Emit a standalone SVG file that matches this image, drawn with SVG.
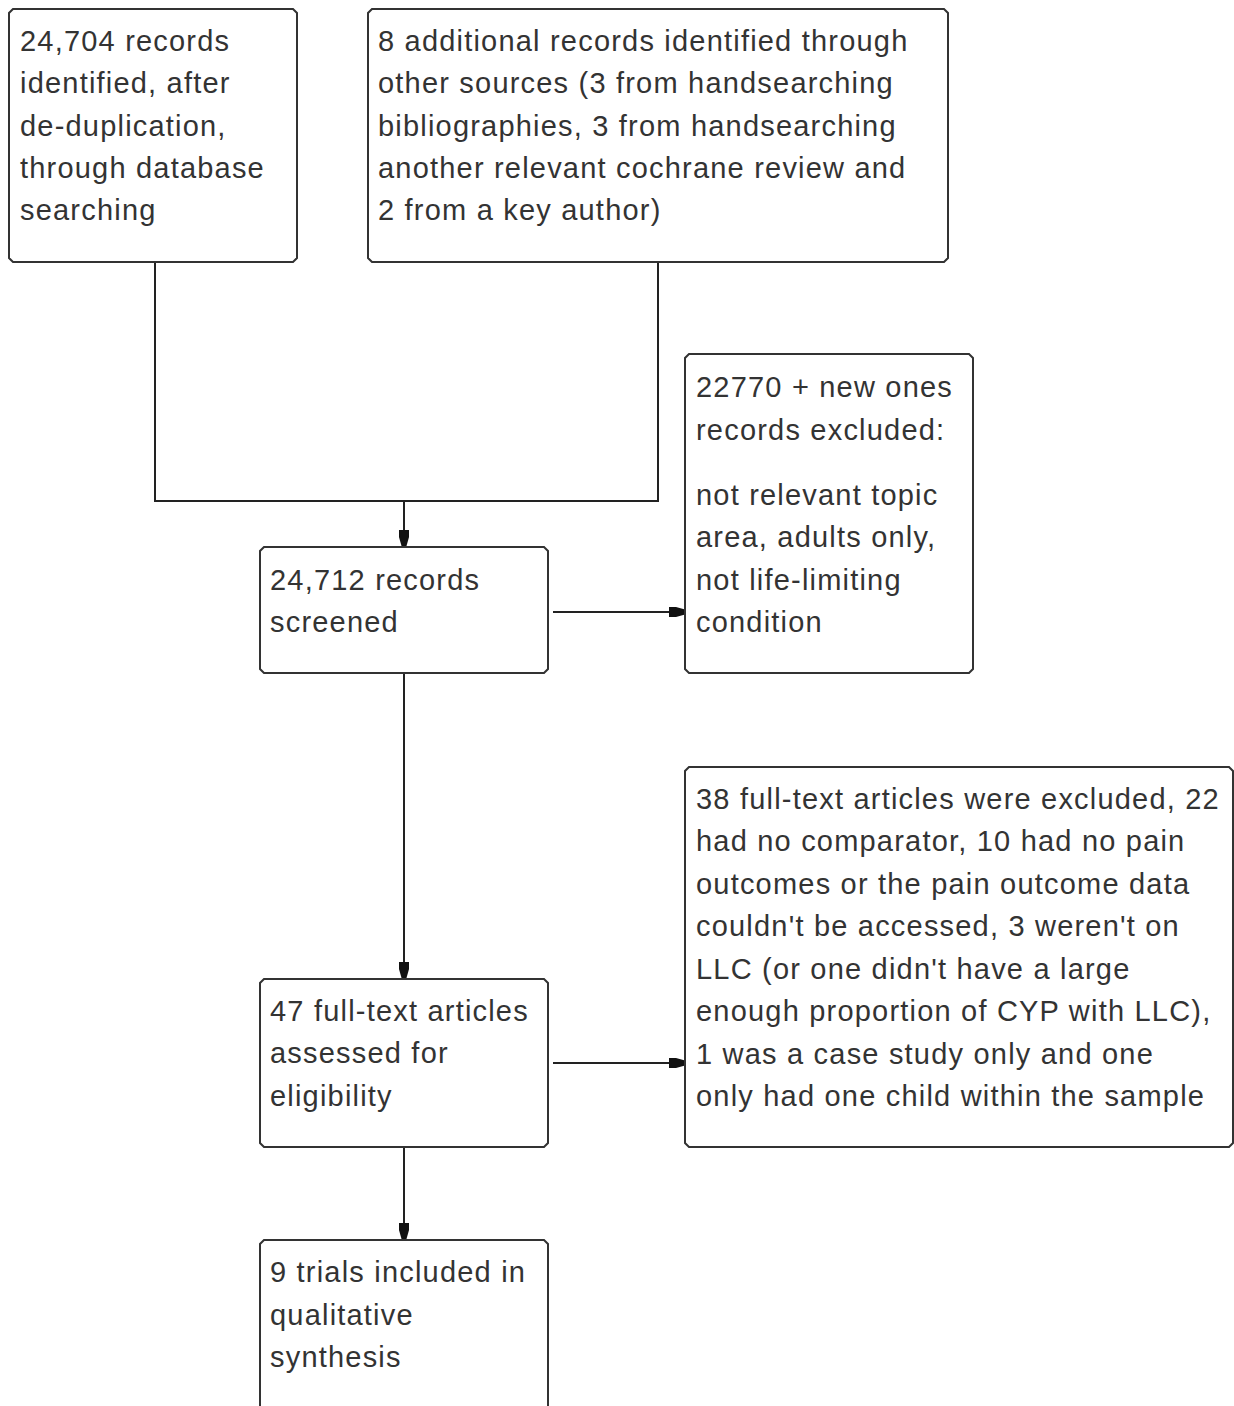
<svg xmlns="http://www.w3.org/2000/svg" width="1234" height="1406" viewBox="0 0 1234 1406">
<style>
.box{fill:#fff;stroke:#333;stroke-width:2}
.t{font-family:"Liberation Sans",Arial,sans-serif;font-size:29px;letter-spacing:1.2px;fill:#333}
.ln{fill:none;stroke:#222;stroke-width:2}
</style>
<defs>
<marker id="ah" viewBox="0 0 16 12" refX="16" refY="6" markerWidth="16" markerHeight="12" markerUnits="userSpaceOnUse" orient="auto">
<path d="M0,1 L7,1 L16,3.5 L16,8.5 L7,11 L0,11 Z" fill="#111"/>
</marker>
</defs>
<rect width="1234" height="1406" fill="#fff"/>
<g id="connectors">
<polyline class="ln" points="155,262 155,501 658,501 658,262"/>
<line class="ln" x1="404" y1="501" x2="404" y2="546" marker-end="url(#ah)"/>
<line class="ln" x1="553" y1="612" x2="685" y2="612" marker-end="url(#ah)"/>
<line class="ln" x1="404" y1="673" x2="404" y2="978" marker-end="url(#ah)"/>
<line class="ln" x1="553" y1="1063" x2="685" y2="1063" marker-end="url(#ah)"/>
<line class="ln" x1="404" y1="1147" x2="404" y2="1239" marker-end="url(#ah)"/>
</g>
<g id="n1">
<path class="box" d="M13,9 H293 L297,13 V258 L293,262 H13 L9,258 V13 Z"/>
<text class="t"><tspan x="20" y="51">24,704 records</tspan><tspan x="20" y="93">identified, after</tspan><tspan x="20" y="136">de-duplication,</tspan><tspan x="20" y="178">through database</tspan><tspan x="20" y="220">searching</tspan></text>
</g>
<g id="n2">
<path class="box" d="M372,9 H944 L948,13 V258 L944,262 H372 L368,258 V13 Z"/>
<text class="t"><tspan x="378" y="51">8 additional records identified through</tspan><tspan x="378" y="93">other sources (3 from handsearching</tspan><tspan x="378" y="136">bibliographies, 3 from handsearching</tspan><tspan x="378" y="178">another relevant cochrane review and</tspan><tspan x="378" y="220">2 from a key author)</tspan></text>
</g>
<g id="n3">
<path class="box" d="M264,547 H544 L548,551 V669 L544,673 H264 L260,669 V551 Z"/>
<text class="t"><tspan x="270" y="590">24,712 records</tspan><tspan x="270" y="632">screened</tspan></text>
</g>
<g id="n4">
<path class="box" d="M689,354 H969 L973,358 V669 L969,673 H689 L685,669 V358 Z"/>
<text class="t"><tspan x="696" y="397">22770 + new ones</tspan><tspan x="696" y="440">records excluded:</tspan><tspan x="696" y="505">not relevant topic</tspan><tspan x="696" y="547">area, adults only,</tspan><tspan x="696" y="590">not life-limiting</tspan><tspan x="696" y="632">condition</tspan></text>
</g>
<g id="n5">
<path class="box" d="M264,979 H544 L548,983 V1143 L544,1147 H264 L260,1143 V983 Z"/>
<text class="t"><tspan x="270" y="1021">47 full-text articles</tspan><tspan x="270" y="1063">assessed for</tspan><tspan x="270" y="1106">eligibility</tspan></text>
</g>
<g id="n6">
<path class="box" d="M689,767 H1229 L1233,771 V1143 L1229,1147 H689 L685,1143 V771 Z"/>
<text class="t"><tspan x="696" y="809">38 full-text articles were excluded, 22</tspan><tspan x="696" y="851">had no comparator, 10 had no pain</tspan><tspan x="696" y="894">outcomes or the pain outcome data</tspan><tspan x="696" y="936">couldn't be accessed, 3 weren't on</tspan><tspan x="696" y="979">LLC (or one didn't have a large</tspan><tspan x="696" y="1021">enough proportion of CYP with LLC),</tspan><tspan x="696" y="1064">1 was a case study only and one</tspan><tspan x="696" y="1106">only had one child within the sample</tspan></text>
</g>
<g id="n7">
<path class="box" d="M264,1240 H544 L548,1244 V1412 H260 V1244 Z"/>
<text class="t"><tspan x="270" y="1282">9 trials included in</tspan><tspan x="270" y="1325">qualitative</tspan><tspan x="270" y="1367">synthesis</tspan></text>
</g>
</svg>
